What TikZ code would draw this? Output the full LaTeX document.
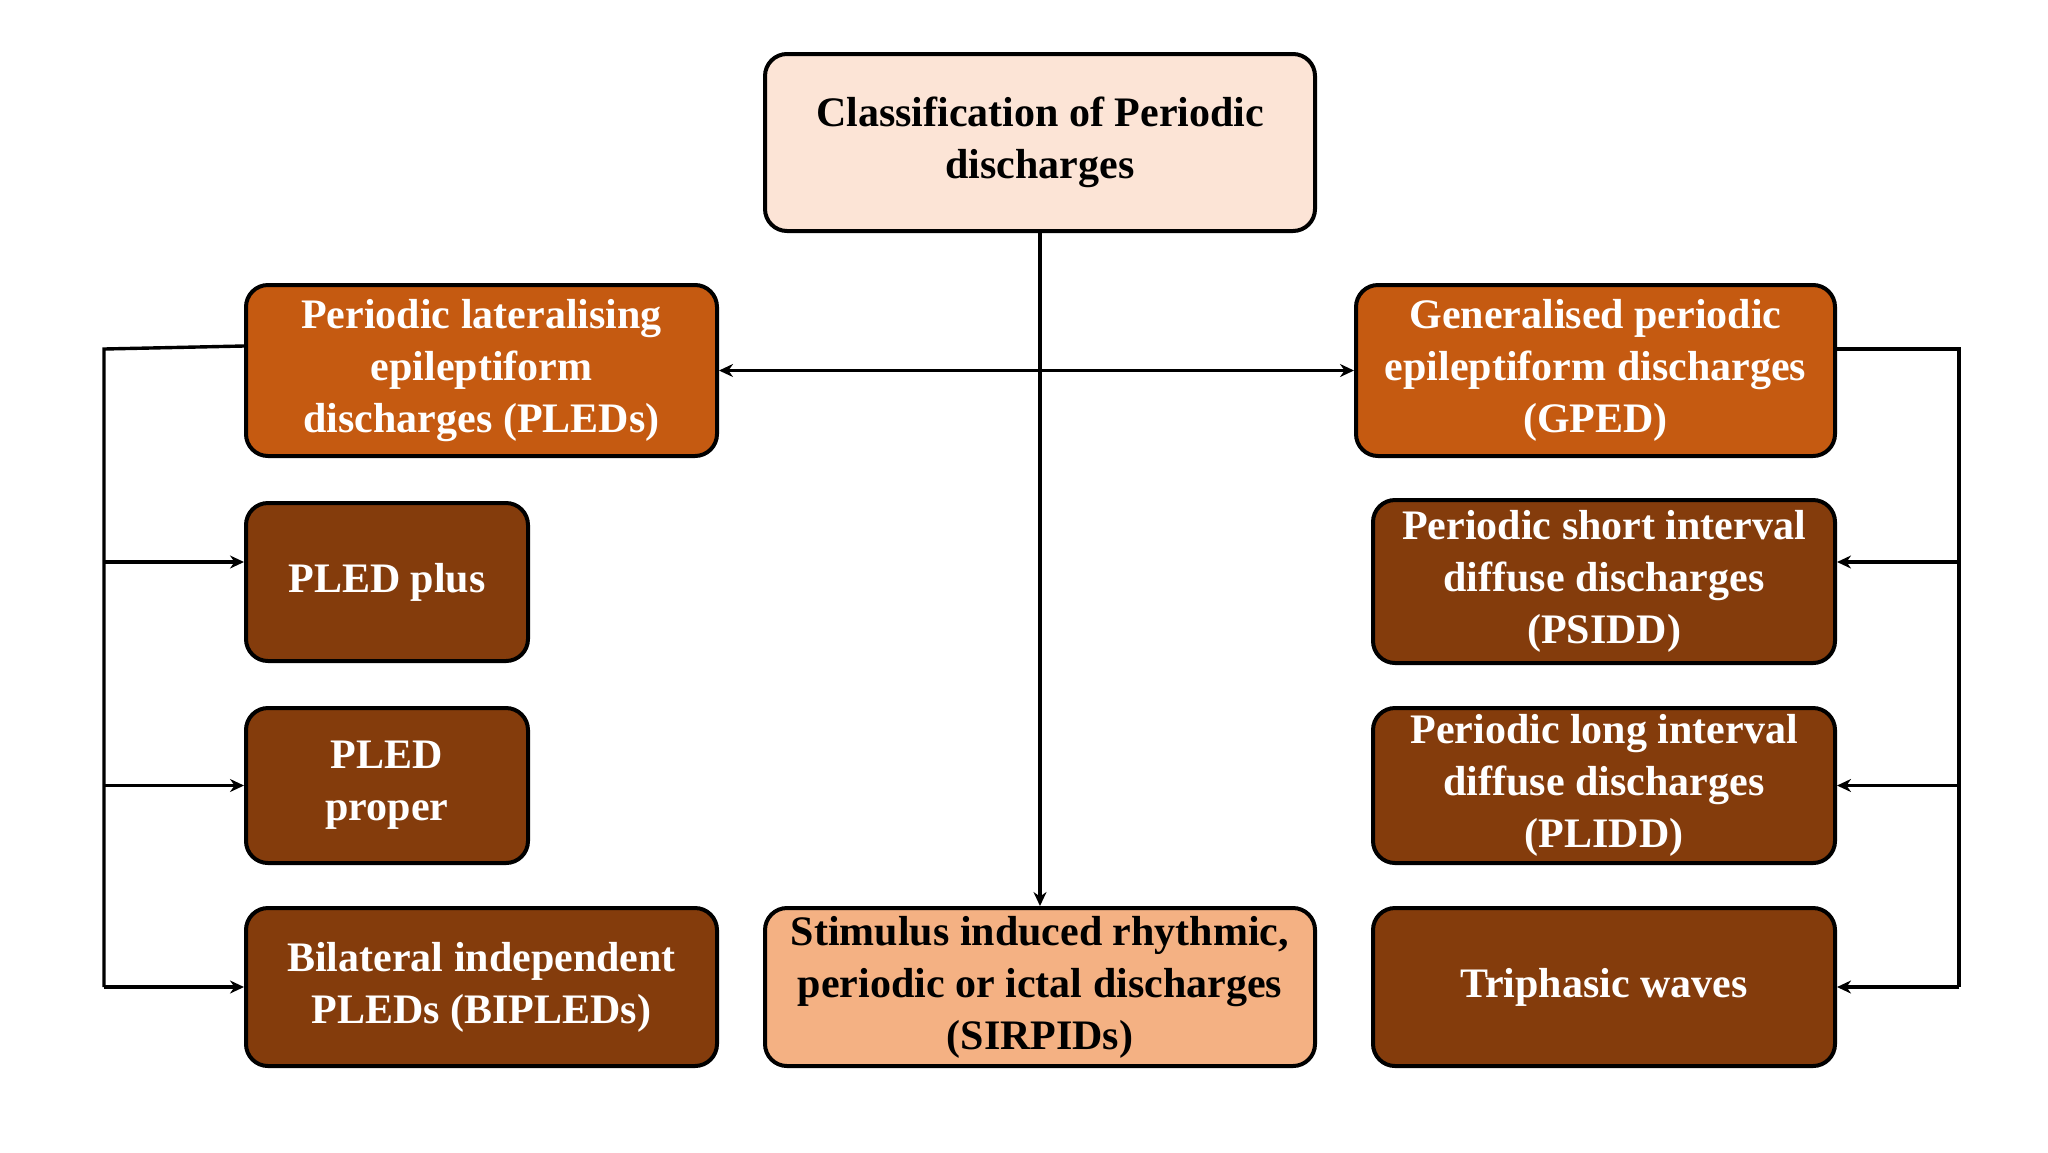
\documentclass[tikz,border=0pt]{standalone}
\usepackage{fontspec}
\setmainfont{Liberation Serif}
\usetikzlibrary{arrows.meta,calc}
\definecolor{toppeach}{HTML}{FCE4D6}
\definecolor{midorange}{HTML}{C55A11}
\definecolor{darkbrown}{HTML}{843C0C}
\definecolor{lightorange}{HTML}{F4B183}
\tikzset{
  box/.style={draw=black, line width=2pt, rounded corners=11pt, align=center,
    font=\fontsize{21}{26}\selectfont\bfseries, inner sep=2pt},
  lightbox/.style={box, text=black},
  darkbox/.style={box, text=white},
  conn/.style={line width=1.7pt, draw=black},
  arr/.style={conn, -{Stealth[length=7pt,width=6.5pt]}},
  darr/.style={conn, {Stealth[length=7pt,width=6.5pt]}-{Stealth[length=7pt,width=6.5pt]}}
}
\begin{document}
\begin{tikzpicture}[x=0.5pt,y=-0.5pt]
\useasboundingbox[fill=white] (0,0) rectangle (2048,1152);
\node[lightbox, fill=toppeach, minimum width=275pt, minimum height=88.5pt] (top) at (1040,142.5) {Classification of Periodic\\discharges};
\node[darkbox, fill=midorange, minimum width=235.5pt, minimum height=85.5pt] (pleds) at (481.5,370.5) {Periodic lateralising\\epileptiform\\discharges (PLEDs)};
\node[darkbox, fill=midorange, minimum width=239.5pt, minimum height=85.5pt] (gped) at (1595.5,370.5) {Generalised periodic\\epileptiform discharges\\(GPED)};
\node[darkbox, fill=darkbrown, minimum width=141pt, minimum height=79pt] (plus) at (387,582) {PLED plus};
\node[darkbox, fill=darkbrown, minimum width=141pt, minimum height=77.5pt] (proper) at (387,785.5) {PLED\\proper};
\node[darkbox, fill=darkbrown, minimum width=235.5pt, minimum height=79pt] (bipleds) at (481.5,987) {Bilateral independent\\PLEDs (BIPLEDs)};
\node[lightbox, fill=lightorange, minimum width=275pt, minimum height=79pt] (sirpids) at (1040,987) {Stimulus induced rhythmic,\\periodic or ictal discharges\\(SIRPIDs)};
\node[darkbox, fill=darkbrown, minimum width=231pt, minimum height=81.5pt] (psidd) at (1604,581.5) {Periodic short interval\\diffuse discharges\\(PSIDD)};
\node[darkbox, fill=darkbrown, minimum width=231pt, minimum height=77.5pt] (plidd) at (1604,785.5) {Periodic long interval\\diffuse discharges\\(PLIDD)};
\node[darkbox, fill=darkbrown, minimum width=231pt, minimum height=79pt] (tri) at (1604,987) {Triphasic waves};
% helper coordinates
\coordinate (lstart) at (246,346);
\coordinate (lbus) at (104,349);
\coordinate (rbus) at (1959,349);
\coordinate (yhi) at (0,562);
% centre connectors
\draw[arr] (top.south) -- (sirpids.north);
\draw[darr] (pleds.east) -- (gped.west);
% left bus
\draw[conn] (pleds.west |- lstart) -- (lbus) -- (lbus |- bipleds.west);
\draw[arr] (lbus |- yhi) -- (plus.west |- yhi);
\draw[arr] (lbus |- proper.west) -- (proper.west);
\draw[arr] (lbus |- bipleds.west) -- (bipleds.west);
% right bus
\draw[conn] (gped.east |- rbus) -- (rbus) -- (rbus |- tri.east);
\draw[arr] (rbus |- yhi) -- (psidd.east |- yhi);
\draw[arr] (rbus |- plidd.east) -- (plidd.east);
\draw[arr] (rbus |- tri.east) -- (tri.east);
\end{tikzpicture}
\end{document}
